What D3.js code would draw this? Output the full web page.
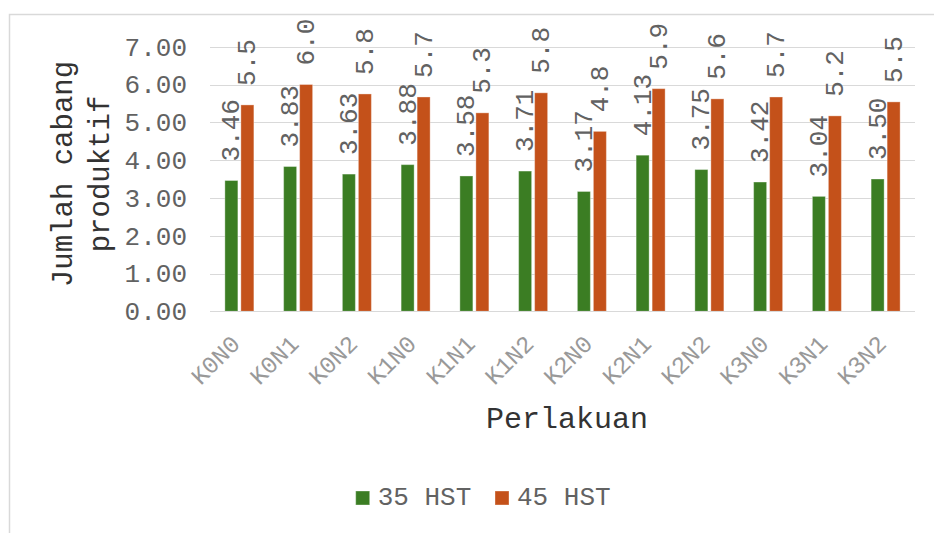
<!DOCTYPE html>
<html>
<head>
<meta charset="utf-8">
<script src="https://cdn.jsdelivr.net/npm/d3@7"></script>
<style>
  html, body { margin: 0; padding: 0; background: #ffffff; }
  svg { display: block; }
  text { font-family: "Courier New", "Liberation Mono", monospace; }
</style>
</head>
<body>
<svg id="chart" width="934" height="533"></svg>
<script>
// ---- data ----
const categories = ["K0N0","K0N1","K0N2","K1N0","K1N1","K1N2","K2N0","K2N1","K2N2","K3N0","K3N1","K3N2"];
const seriesNames = ["35 HST", "45 HST"];
const hst35 = [3.46, 3.83, 3.63, 3.88, 3.58, 3.71, 3.17, 4.13, 3.75, 3.42, 3.04, 3.50];
const hst45 = [5.46, 6.00, 5.75, 5.67, 5.25, 5.78, 4.76, 5.89, 5.62, 5.67, 5.17, 5.54];
const yTicks = [0, 1, 2, 3, 4, 5, 6, 7];
const yTitleLines = ["Jumlah cabang", "produktif"];
const xTitle = "Perlakuan";

const colors = ["#3b7d23", "#c4511a"];

const svg = d3.select("#chart");

// frame
svg.append("rect")
  .attr("x", 9.5).attr("y", 14.5)
  .attr("width", 1000).attr("height", 600)
  .attr("fill", "none").attr("stroke", "#d9d9d9").attr("stroke-width", 1.5);

const plot = { left: 210, right: 915, top: 46.7, bottom: 311.3 };

const x = d3.scaleBand().domain(categories).range([plot.left, plot.right]).padding(0);
const y = d3.scaleLinear().domain([0, 7]).range([plot.bottom, plot.top]);

// gridlines
svg.append("g").selectAll("line").data(yTicks).join("line")
  .attr("x1", plot.left).attr("x2", plot.right)
  .attr("y1", d => Math.round(y(d)) + 0.5).attr("y2", d => Math.round(y(d)) + 0.5)
  .attr("stroke", "#d9d9d9").attr("stroke-width", 1);

// y axis labels
const yAxis = d3.axisLeft(y).tickValues(yTicks).tickFormat(d3.format(".2f")).tickSize(0).tickPadding(0);
const yg = svg.append("g").attr("transform", `translate(187,0)`).call(yAxis);
yg.select(".domain").remove();
yg.selectAll("text")
  .attr("font-size", 26).attr("fill", "#626262")
  .attr("font-family", '"Courier New", "Liberation Mono", monospace');

// bars
const barW = 13, gap = 3;
const series = [hst35, hst45];
const offs = [-(barW + gap / 2), gap / 2];
series.forEach((vals, si) => {
  svg.append("g").selectAll("rect").data(vals).join("rect")
    .attr("x", (d, i) => x(categories[i]) + x.bandwidth() / 2 + offs[si])
    .attr("y", d => y(d))
    .attr("width", barW)
    .attr("height", d => y(0) - y(d))
    .attr("fill", colors[si])
    .attr("stroke", "rgba(255,255,255,0.35)")
    .attr("stroke-width", 1);
});

// data labels
const fmts = [d3.format(".2f"), d3.format(".1f")];
series.forEach((vals, si) => {
  svg.append("g").selectAll("text").data(vals).join("text")
    .attr("transform", (d, i) => {
      const cx = x(categories[i]) + x.bandwidth() / 2 + offs[si] + barW / 2;
      return `translate(${cx + 1},${y(d) - 19}) rotate(-90)`;
    })
    .attr("text-anchor", "start")
    .attr("dominant-baseline", "central")
    .attr("font-size", 26)
    .attr("fill", "#626262")
    .text(d => fmts[si](d));
});

// x axis category labels
const xAxis = d3.axisBottom(x).tickSize(0).tickPadding(0);
const xg = svg.append("g").attr("transform", `translate(0,${plot.bottom})`).call(xAxis);
xg.select(".domain").remove();
xg.selectAll("text")
  .attr("font-size", 24).attr("fill", "#999999")
  .attr("font-family", '"Courier New", "Liberation Mono", monospace')
  .attr("text-anchor", "end")
  .attr("dy", null)
  .attr("y", 0)
  .attr("transform", "translate(2,34) rotate(-45)");

// axis line
svg.append("line")
  .attr("x1", plot.left).attr("x2", plot.right)
  .attr("y1", Math.round(y(0)) + 0.5).attr("y2", Math.round(y(0)) + 0.5)
  .attr("stroke", "#d9d9d9").attr("stroke-width", 1);

// x title
svg.append("text")
  .attr("x", 567).attr("y", 428)
  .attr("text-anchor", "middle")
  .attr("font-size", 30).attr("fill", "#333333")
  .text(xTitle);

// y title
const yt = svg.append("text")
  .attr("transform", "translate(0,174) rotate(-90)")
  .attr("text-anchor", "middle")
  .attr("font-size", 29).attr("fill", "#333333");
yt.selectAll("tspan").data(yTitleLines).join("tspan")
  .attr("x", 0)
  .attr("y", (d, i) => 72 + i * 37)
  .text(d => d);

// legend
const legendX = [355.7, 495];
const lg = svg.append("g");
seriesNames.forEach((name, i) => {
  lg.append("rect")
    .attr("x", legendX[i]).attr("y", 491)
    .attr("width", 14).attr("height", 14)
    .attr("fill", colors[i])
    .attr("stroke", "rgba(255,255,255,0.35)");
  lg.append("text")
    .attr("x", legendX[i] + 22).attr("y", 498)
    .attr("dominant-baseline", "central")
    .attr("font-size", 26).attr("fill", "#626262")
    .text(name);
});
</script>
</body>
</html>
